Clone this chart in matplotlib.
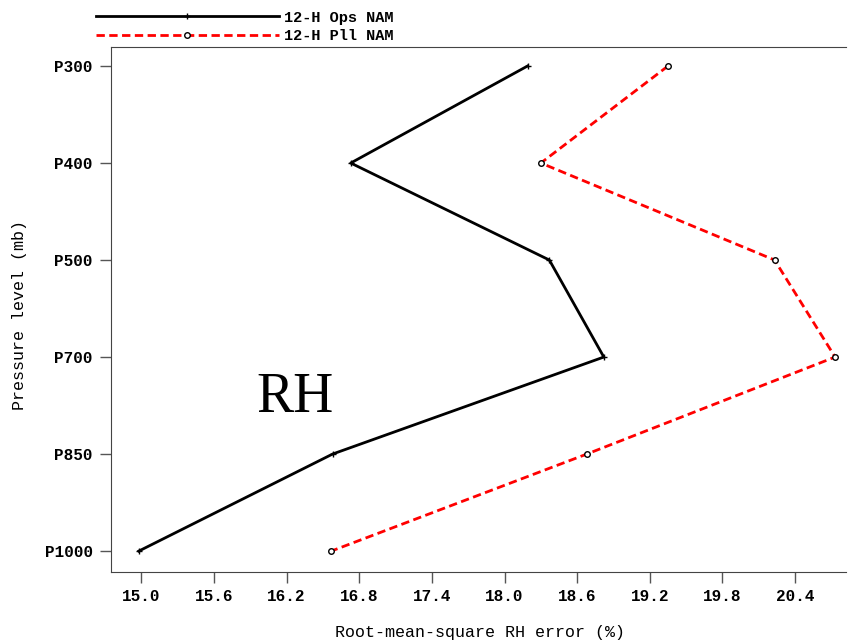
import matplotlib.pyplot as plt

levels = ["P300", "P400", "P500", "P700", "P850", "P1000"]
ops_nam = [18.19, 16.73, 18.37, 18.82, 16.58, 14.98]
pll_nam = [19.35, 18.30, 20.23, 20.73, 18.68, 16.57]
xticks = [15.0, 15.6, 16.2, 16.8, 17.4, 18.0, 18.6, 19.2, 19.8, 20.4]

mono = "Liberation Mono"

fig = plt.figure(figsize=(8.49, 6.44), dpi=100)
ax = fig.add_axes([111 / 849, 1 - 572 / 644, 735 / 849, 525 / 644])

ypos = list(range(len(levels)))
l1, = ax.plot(ops_nam, ypos, color="black", lw=2.0, marker="+", ms=5, mew=1)
l2, = ax.plot(pll_nam, ypos, color="red", lw=2.0, ls=(0, (3, 1.6)),
              marker="o", ms=4, mfc="white", mec="black", mew=1)

ax.set_xlim(14.75, 20.82)
ax.set_ylim(5.216, -0.196)
ax.set_yticks(ypos)
ax.set_yticklabels(levels, fontfamily=mono, fontweight="bold", fontsize=11.5)
ax.set_xticks(xticks)
ax.set_xticklabels([f"{v:.1f}" for v in xticks], fontfamily=mono,
                   fontweight="bold", fontsize=11.5)
ax.tick_params(axis="y", length=8, width=1, color="#555555", pad=5)
ax.tick_params(axis="x", length=8, width=1, color="#555555", pad=4)
ax.spines["right"].set_visible(False)
for s in ["left", "top", "bottom"]:
    ax.spines[s].set_color("#444444")

fig.text(480 / 849, 1 - 633 / 644, "Root-mean-square RH error (%)",
         fontfamily=mono, fontsize=12, ha="center", va="center")
fig.text(20 / 849, 1 - 315 / 644, "Pressure level (mb)",
         fontfamily=mono, fontsize=12, ha="center", va="center", rotation=90)

fig.text(295 / 849, 1 - 398 / 644, "RH", fontfamily="Liberation Serif",
         fontsize=40, ha="center", va="center")

leg = fig.legend([l1, l2], ["12-H Ops NAM", "12-H Pll NAM"],
                 loc="upper left", bbox_to_anchor=(82 / 849, 1.005),
                 frameon=False, handlelength=12, handletextpad=0.3,
                 labelspacing=0.3, prop={"family": mono, "weight": "bold",
                                         "size": 11})

fig.savefig("out.png", dpi=100)
